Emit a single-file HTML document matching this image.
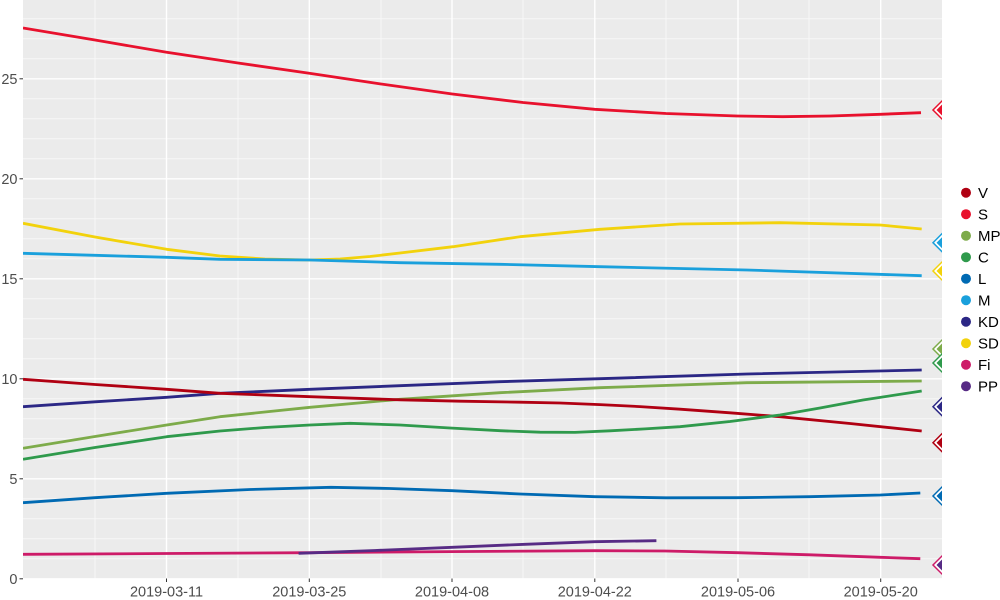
<!DOCTYPE html>
<html><head><meta charset="utf-8"><style>
html,body{margin:0;padding:0;background:#fff;}
svg{display:block;font-family:"Liberation Sans",sans-serif;}
</style></head><body>
<svg width="1000" height="600" viewBox="0 0 1000 600" xmlns="http://www.w3.org/2000/svg">
<defs><clipPath id="p"><rect x="23" y="0" width="919" height="578.5"/></clipPath></defs>
<rect x="23" y="0" width="919" height="578.5" fill="#EBEBEB"/>
<g clip-path="url(#p)">
<g stroke="#fff" stroke-width="0.8" opacity="0.75">
<line x1="23" x2="942" y1="558.8" y2="558.8"/><line x1="23" x2="942" y1="538.8" y2="538.8"/><line x1="23" x2="942" y1="518.8" y2="518.8"/><line x1="23" x2="942" y1="498.8" y2="498.8"/>
<line x1="23" x2="942" y1="458.8" y2="458.8"/><line x1="23" x2="942" y1="438.8" y2="438.8"/><line x1="23" x2="942" y1="418.8" y2="418.8"/><line x1="23" x2="942" y1="398.8" y2="398.8"/>
<line x1="23" x2="942" y1="358.8" y2="358.8"/><line x1="23" x2="942" y1="338.8" y2="338.8"/><line x1="23" x2="942" y1="318.8" y2="318.8"/><line x1="23" x2="942" y1="298.8" y2="298.8"/>
<line x1="23" x2="942" y1="258.8" y2="258.8"/><line x1="23" x2="942" y1="238.8" y2="238.8"/><line x1="23" x2="942" y1="218.8" y2="218.8"/><line x1="23" x2="942" y1="198.8" y2="198.8"/>
<line x1="23" x2="942" y1="158.8" y2="158.8"/><line x1="23" x2="942" y1="138.8" y2="138.8"/><line x1="23" x2="942" y1="118.8" y2="118.8"/><line x1="23" x2="942" y1="98.8" y2="98.8"/>
<line x1="23" x2="942" y1="58.8" y2="58.8"/><line x1="23" x2="942" y1="38.8" y2="38.8"/><line x1="23" x2="942" y1="18.8" y2="18.8"/>
<line y1="0" y2="578.5" x1="95" x2="95"/><line y1="0" y2="578.5" x1="238" x2="238"/><line y1="0" y2="578.5" x1="381" x2="381"/><line y1="0" y2="578.5" x1="523" x2="523"/><line y1="0" y2="578.5" x1="666" x2="666"/><line y1="0" y2="578.5" x1="809" x2="809"/>
</g>
<g stroke="#fff" stroke-width="1.4">
<line x1="23" x2="942" y1="578.8" y2="578.8"/><line x1="23" x2="942" y1="478.8" y2="478.8"/><line x1="23" x2="942" y1="378.8" y2="378.8"/><line x1="23" x2="942" y1="278.8" y2="278.8"/><line x1="23" x2="942" y1="178.8" y2="178.8"/><line x1="23" x2="942" y1="78.8" y2="78.8"/>
<line y1="0" y2="578.5" x1="166.5" x2="166.5"/><line y1="0" y2="578.5" x1="309.3" x2="309.3"/><line y1="0" y2="578.5" x1="452" x2="452"/><line y1="0" y2="578.5" x1="594.8" x2="594.8"/><line y1="0" y2="578.5" x1="738" x2="738"/><line y1="0" y2="578.5" x1="880.7" x2="880.7"/>
</g>
<g fill="none" stroke-width="2.8" stroke-linejoin="round" stroke-linecap="butt">
<polyline stroke="#E8112D" points="23,28 95,40 166.6,52.3 238,63 309.2,73.3 381,84 452.3,94 523,102.5 594.8,109.3 666,113.5 737.3,116 782.5,116.7 830,116 880.4,114.3 921,112.7"/>
<polyline stroke="#F2D20C" points="23,223.3 95,237 166.7,249.3 220,256 265,259 310,260 340,259 370,256.5 400,253 453,246.7 520,236.7 600,229.3 680,224 780,222.7 880,225 921.7,229"/>
<polyline stroke="#1AA0DC" points="23,253.3 95,255.3 166.7,257.3 220,259.3 310,260 400,262.7 500,264.3 600,266.7 746.7,270 921.7,275.7"/>
<polyline stroke="#2B2785" points="23,406.7 95,401.8 166.7,397.3 220,393.3 310,389.3 400,385.7 500,381.7 600,378.7 746.7,374 921.7,370"/>
<polyline stroke="#7DAB4A" points="23,448.3 95,436.5 166.7,425 220,416.7 310,407.3 400,399.3 500,392.7 600,387.7 746.7,382.7 921.7,381"/>
<polyline stroke="#B00012" points="23,379.3 95,384.5 166.7,389.3 220,393.3 310,396.7 400,399.8 460,401.2 520,402.2 560,403 600,404.6 640,406.6 680,409.2 730,412.8 780,416.7 850,423.5 921.7,431"/>
<polyline stroke="#2F9A4C" points="23,459.3 95,447.5 166.7,436.7 220,431 265,427.5 310,425 350,423.3 400,425 450,428 500,430.7 540,432.2 575,432.4 610,430.8 645,428.9 680,426.7 730,421.5 780,415 820,408 863,400 921.7,391"/>
<polyline stroke="#006AB3" points="23,502.7 95,497.7 166.6,493.3 250,489.5 330.9,487.3 390,488.5 452.3,490.7 520,494 594.8,496.7 666,497.8 737.3,497.7 810,496.7 880.4,495 920.3,493"/>
<polyline stroke="#CD1B68" points="23,554.3 166,553.5 309.2,552.7 450,551.6 594.8,550.7 665,551 737.3,552.7 810,554.8 880.4,557.3 920.3,558.7"/>
<polyline stroke="#572B85" points="298.6,553.3 375,550.5 452.3,547.3 525,544.3 594.8,541.7 656.4,540.7"/>
</g>
<g stroke-width="1.5" fill="#fff">
<polygon stroke="#E8112D" points="942,101 951,110 942,119 933,110"/><polygon fill="#E8112D" stroke="none" points="942,104.5 947.5,110 942,115.5 936.5,110"/>
<polygon stroke="#1AA0DC" points="942,233.7 951,242.7 942,251.7 933,242.7"/><polygon fill="#1AA0DC" stroke="none" points="942,237.2 947.5,242.7 942,248.2 936.5,242.7"/>
<polygon stroke="#F2D20C" points="942,262 951,271 942,280 933,271"/><polygon fill="#F2D20C" stroke="none" points="942,265.5 947.5,271 942,276.5 936.5,271"/>
<polygon stroke="#7DAB4A" points="942,340 951,349 942,358 933,349"/><polygon fill="#7DAB4A" stroke="none" points="942,343.5 947.5,349 942,354.5 936.5,349"/>
<polygon stroke="#2F9A4C" points="942,354 951,363 942,372 933,363"/><polygon fill="#2F9A4C" stroke="none" points="942,357.5 947.5,363 942,368.5 936.5,363"/>
<polygon stroke="#2B2785" points="942,397.7 951,406.7 942,415.7 933,406.7"/><polygon fill="#2B2785" stroke="none" points="942,401.2 947.5,406.7 942,412.2 936.5,406.7"/>
<polygon stroke="#B00012" points="942,433.7 951,442.7 942,451.7 933,442.7"/><polygon fill="#B00012" stroke="none" points="942,437.2 947.5,442.7 942,448.2 936.5,442.7"/>
<polygon stroke="#006AB3" points="942,487 951,496 942,505 933,496"/><polygon fill="#006AB3" stroke="none" points="942,490.5 947.5,496 942,501.5 936.5,496"/>
<polygon stroke="#CD1B68" points="942,556 951,565 942,574 933,565"/><polygon fill="#572B85" stroke="none" points="942,559.5 947.5,565 942,570.5 936.5,565"/>
</g>
</g>
<g stroke="#333" stroke-width="1">
<line x1="19.5" x2="23" y1="578.8" y2="578.8"/><line x1="19.5" x2="23" y1="478.8" y2="478.8"/><line x1="19.5" x2="23" y1="378.8" y2="378.8"/><line x1="19.5" x2="23" y1="278.8" y2="278.8"/><line x1="19.5" x2="23" y1="178.8" y2="178.8"/><line x1="19.5" x2="23" y1="78.8" y2="78.8"/>
<line y1="578.5" y2="582" x1="166.5" x2="166.5"/><line y1="578.5" y2="582" x1="309.3" x2="309.3"/><line y1="578.5" y2="582" x1="452" x2="452"/><line y1="578.5" y2="582" x1="594.8" x2="594.8"/><line y1="578.5" y2="582" x1="738" x2="738"/><line y1="578.5" y2="582" x1="880.7" x2="880.7"/>
</g>
<g fill="#4D4D4D" font-size="14.5" text-anchor="end">
<text x="17.5" y="584">0</text><text x="17.5" y="484">5</text><text x="17.5" y="384">10</text><text x="17.5" y="284">15</text><text x="17.5" y="184">20</text><text x="17.5" y="84">25</text>
</g>
<g fill="#4D4D4D" font-size="14.5" text-anchor="middle">
<text x="166.5" y="596.5">2019-03-11</text><text x="309.3" y="596.5">2019-03-25</text><text x="452" y="596.5">2019-04-08</text><text x="594.8" y="596.5">2019-04-22</text><text x="738" y="596.5">2019-05-06</text><text x="880.7" y="596.5">2019-05-20</text>
</g>
<g font-size="15" fill="#000">
<circle cx="966" cy="192.7" r="5" fill="#B00012"/><text x="978" y="198">V</text>
<circle cx="966" cy="214.2" r="5" fill="#E8112D"/><text x="978" y="219.5">S</text>
<circle cx="966" cy="235.7" r="5" fill="#7DAB4A"/><text x="978" y="241">MP</text>
<circle cx="966" cy="257.2" r="5" fill="#2F9A4C"/><text x="978" y="262.5">C</text>
<circle cx="966" cy="278.7" r="5" fill="#006AB3"/><text x="978" y="284">L</text>
<circle cx="966" cy="300.2" r="5" fill="#1AA0DC"/><text x="978" y="305.5">M</text>
<circle cx="966" cy="321.7" r="5" fill="#2B2785"/><text x="978" y="327">KD</text>
<circle cx="966" cy="343.2" r="5" fill="#F2D20C"/><text x="978" y="348.5">SD</text>
<circle cx="966" cy="364.7" r="5" fill="#CD1B68"/><text x="978" y="370">Fi</text>
<circle cx="966" cy="386.2" r="5" fill="#572B85"/><text x="978" y="391.5">PP</text>
</g>
</svg>
</body></html>
